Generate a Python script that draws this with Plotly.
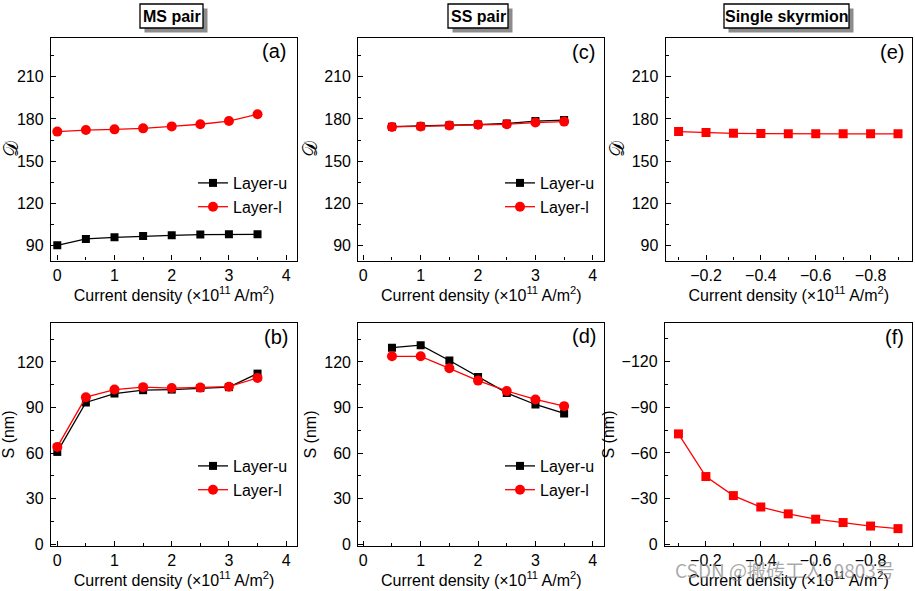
import plotly.graph_objects as go

W, H = 915, 591

# ---------------- data ----------------
x_ms = [0, 0.5, 1, 1.5, 2, 2.5, 3, 3.5]
d_ms_u = [90.2, 94.7, 95.9, 96.8, 97.3, 97.8, 98.0, 98.0]
d_ms_l = [171.0, 172.1, 172.6, 173.3, 174.7, 176.2, 178.5, 183.3]
s_ms_u = [60.8, 93.3, 99.2, 101.4, 101.8, 102.8, 103.4, 112.3]
s_ms_l = [64.1, 96.8, 101.8, 103.4, 102.8, 103.1, 103.7, 109.5]

x_ss = [0.5, 1, 1.5, 2, 2.5, 3, 3.5]
d_ss_u = [174.5, 174.8, 175.5, 176.0, 176.8, 178.5, 179.2]
d_ss_l = [174.3, 174.6, 175.3, 175.8, 176.2, 177.4, 178.1]
s_ss_u = [129.4, 131.0, 120.9, 110.1, 99.6, 92.0, 86.1]
s_ss_l = [123.7, 123.7, 115.8, 107.7, 100.9, 95.3, 90.9]

x_single = [-0.1, -0.2, -0.3, -0.4, -0.5, -0.6, -0.7, -0.8, -0.9]
d_single = [171.0, 170.3, 169.8, 169.6, 169.4, 169.4, 169.4, 169.4, 169.4]
s_single = [-72.5, -44.5, -32.0, -24.5, -20.0, -16.5, -14.3, -12.0, -10.3]

series_names = ["Layer-u", "Layer-l"]
panel_labels = ["(a)", "(b)", "(c)", "(d)", "(e)", "(f)"]
column_titles = ["MS pair", "SS pair", "Single skyrmion"]
x_title = "Current density (×10<sup>11</sup> A/m<sup>2</sup>)"
y_title_top = "𝒟"
y_title_bottom = "S (nm)"

# ---------------- layout helpers ----------------
FONT = "Liberation Sans, Arial, sans-serif"
BLACK = "#000000"
RED = "#FF0000"


def px(x):
    return x / W


def py(y):
    return 1 - y / H


# pixel boxes (left, right, top, bottom)
boxes = {
    "a": (51, 297, 38, 260.5),
    "b": (51, 297, 323, 546),
    "c": (358.3, 604.3, 38, 260.5),
    "d": (358.3, 604.3, 323, 546),
    "e": (665.7, 912, 38, 260.5),
    "f": (665, 912, 323, 546),
}
order = ["a", "b", "c", "d", "e", "f"]
xranges = {
    "a": [-0.110, 4.19],
    "b": [-0.110, 4.19],
    "c": [-0.087, 4.20],
    "d": [-0.087, 4.20],
    "e": [-0.053, -0.951],
    "f": [-0.051, -0.951],
}
yranges = {
    "a": [79.4, 237.5],
    "c": [79.4, 237.5],
    "e": [79.4, 237.5],
    "b": [-1.1, 145.6],
    "d": [-1.1, 145.6],
    "f": [1.1, -145.3],
}

fig = go.Figure()
layout = dict(
    width=W, height=H,
    margin=dict(l=0, r=0, t=0, b=0, autoexpand=False),
    paper_bgcolor="white", plot_bgcolor="white",
    font=dict(family=FONT, color=BLACK, size=16),
    showlegend=True,
)

for i, k in enumerate(order):
    l, r, t, b = boxes[k]
    n = "" if i == 0 else str(i + 1)
    is_top = k in ("a", "c", "e")
    single = k in ("e", "f")
    xa = dict(
        domain=[px(l), px(r)], range=xranges[k], anchor="y" + n,
        automargin=False,
        showline=True, mirror=True, linecolor=BLACK, linewidth=1.3,
        ticks="inside", ticklen=5, tickwidth=1.3, tickcolor=BLACK,
        tick0=0, dtick=0.2 if single else 1,
        minor=dict(dtick=0.1 if single else 0.5, ticks="inside", ticklen=3,
                   tickwidth=1.3, tickcolor=BLACK),
        showgrid=False, zeroline=False,
        tickfont=dict(size=16, family=FONT),
        ticklabelstandoff=0,
        title=dict(text=x_title, font=dict(size=16, family=FONT),
                   standoff=5 if is_top else 6),
    )
    ya = dict(
        domain=[py(b), py(t)], range=yranges[k], anchor="x" + n,
        automargin=False,
        showline=True, mirror=True, linecolor=BLACK, linewidth=1.3,
        ticks="inside", ticklen=5, tickwidth=1.3, tickcolor=BLACK,
        tick0=0, dtick=30,
        minor=dict(dtick=15, ticks="inside", ticklen=3, tickwidth=1.3,
                   tickcolor=BLACK),
        showgrid=False, zeroline=False,
        tickfont=dict(size=16, family=FONT),
        ticklabelstandoff=3,
        title=dict(text=y_title_top if is_top else y_title_bottom,
                   font=dict(size=20 if is_top else 16, family=FONT),
                   standoff=1 if is_top else 3),
    )
    layout["xaxis" + n] = xa
    layout["yaxis" + n] = ya

axis_of = {k: ("" if i == 0 else str(i + 1)) for i, k in enumerate(order)}


def add_pair(k, xs, yu, yl, legend_name):
    n = axis_of[k]
    fig.add_trace(go.Scatter(
        x=xs, y=yu, name=series_names[0], mode="lines+markers",
        line=dict(color=BLACK, width=1.3),
        marker=dict(symbol="square", size=8, color=BLACK),
        xaxis="x" + n, yaxis="y" + n, legend=legend_name))
    fig.add_trace(go.Scatter(
        x=xs, y=yl, name=series_names[1], mode="lines+markers",
        line=dict(color=RED, width=1.3),
        marker=dict(symbol="circle", size=10, color=RED),
        xaxis="x" + n, yaxis="y" + n, legend=legend_name))


add_pair("a", x_ms, d_ms_u, d_ms_l, "legend")
add_pair("b", x_ms, s_ms_u, s_ms_l, "legend2")
add_pair("c", x_ss, d_ss_u, d_ss_l, "legend3")
add_pair("d", x_ss, s_ss_u, s_ss_l, "legend4")

for k, ys in (("e", d_single), ("f", s_single)):
    n = axis_of[k]
    fig.add_trace(go.Scatter(
        x=x_single, y=ys, mode="lines+markers", showlegend=False,
        line=dict(color=RED, width=1.3),
        marker=dict(symbol="square", size=9, color=RED),
        xaxis="x" + n, yaxis="y" + n))

# legends
legend_pos = {"legend": (193, 166), "legend2": (193, 449),
              "legend3": (500, 166), "legend4": (500, 449)}
for name, (lx, ly) in legend_pos.items():
    layout[name] = dict(
        x=px(lx), y=py(ly), xanchor="left", yanchor="top",
        bgcolor="rgba(0,0,0,0)", borderwidth=0, itemwidth=30,
        font=dict(size=16, family=FONT, color=BLACK), tracegroupgap=0,
    )

annotations = []
shapes = []

# panel labels (right x, center y)
label_pos = {"a": (288, 51), "b": (290, 337), "c": (597, 52),
             "d": (598, 336), "e": (906, 52), "f": (906, 337)}
for k, lab in zip(order, panel_labels):
    lx, ly = label_pos[k]
    annotations.append(dict(
        text=lab, x=px(lx), y=py(ly), xref="paper", yref="paper",
        xanchor="right", yanchor="middle", showarrow=False,
        font=dict(size=20, family=FONT, color=BLACK)))

# column titles with shadowed boxes (left, right, top, bottom)
title_boxes = [(140, 203, 4, 28), (448, 508, 4, 28), (724, 849, 4, 28)]
for txt, (l, r, t, b) in zip(column_titles, title_boxes):
    shapes.append(dict(type="rect", xref="paper", yref="paper",
                       x0=px(l + 4.5), x1=px(r + 4.5), y0=py(b + 4.5),
                       y1=py(t + 4.5),
                       fillcolor="#8c8c8c", line=dict(width=0), layer="above"))
    shapes.append(dict(type="rect", xref="paper", yref="paper",
                       x0=px(l), x1=px(r), y0=py(b), y1=py(t),
                       fillcolor="white", line=dict(color=BLACK, width=1.3),
                       layer="above"))
    annotations.append(dict(
        text="<b>%s</b>" % txt, x=px((l + r) / 2), y=py((t + b) / 2),
        xref="paper", yref="paper", xanchor="center", yanchor="middle",
        showarrow=False, font=dict(size=16, family=FONT, color=BLACK)))

# watermark
annotations.append(dict(
    text="CSDN @搬砖工人_0803号", x=px(785), y=py(569), xref="paper",
    yref="paper", xanchor="center", yanchor="middle", showarrow=False,
    font=dict(size=19, family="Noto Sans CJK SC, Liberation Sans, sans-serif",
              color="rgba(140,140,140,0.75)")))

layout["annotations"] = annotations
layout["shapes"] = shapes
fig.update_layout(**layout)

fig.write_html("out.html")
